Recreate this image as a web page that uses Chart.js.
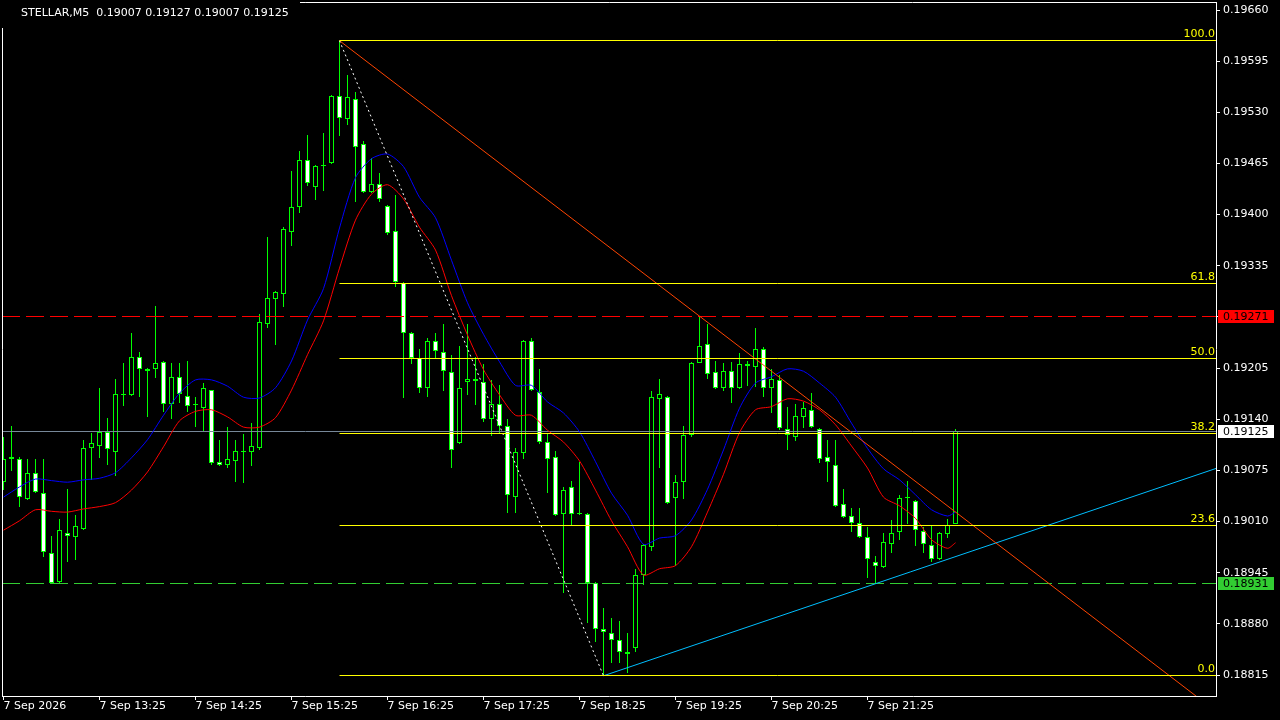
<!DOCTYPE html>
<html>
<head>
<meta charset="utf-8">
<script src="https://cdn.jsdelivr.net/npm/chart.js@4.4.0/dist/chart.umd.min.js"></script>
<style>
    html, body { margin: 0; padding: 0; background: #000; overflow: hidden; }
    #chart { display: block; }
</style>
</head>
<body>
<canvas id="chart" width="1280" height="720"></canvas>
<script>
// STELLAR M5, bars indexed from the first visible candle (-1) to the current one (118)
const timeTicks = [-1, 11, 23, 35, 47, 59, 71, 83, 95, 107];
const timeLabels = ['7 Sep 2026', '7 Sep 13:25', '7 Sep 14:25', '7 Sep 15:25', '7 Sep 16:25',
    '7 Sep 17:25', '7 Sep 18:25', '7 Sep 19:25', '7 Sep 20:25', '7 Sep 21:25'];
const priceTicks = [0.18815, 0.18880, 0.18945, 0.19010, 0.19075, 0.19140, 0.19205,
    0.19270, 0.19335, 0.19400, 0.19465, 0.19530, 0.19595, 0.19660];

const opens = [
    0.19060, 0.19092, 0.19090, 0.19039, 0.19072, 0.19046, 0.18970, 0.18933, 0.18995, 0.18990,
    0.19000, 0.19103, 0.19106, 0.19124, 0.19098, 0.19172, 0.19171, 0.19219, 0.19204, 0.19204,
    0.19213, 0.19159, 0.19194, 0.19170, 0.19159, 0.19154, 0.19177, 0.19086, 0.19082, 0.19087,
    0.19100, 0.19098, 0.19103, 0.19261, 0.19293, 0.19299, 0.19378, 0.19410, 0.19469, 0.19435,
    0.19463, 0.19466, 0.19551, 0.19522, 0.19547, 0.19490, 0.19429, 0.19439, 0.19411, 0.19379,
    0.19313, 0.19250, 0.19218, 0.19180, 0.19239, 0.19226, 0.19200, 0.19110, 0.19187, 0.19191,
    0.19187, 0.19140, 0.19159, 0.19131, 0.19041, 0.19097, 0.19239, 0.19175, 0.19111, 0.19092,
    0.19020, 0.19054, 0.19020, 0.19020, 0.18932, 0.18874, 0.18868, 0.18860, 0.18842, 0.18849,
    0.18942, 0.18978, 0.19166, 0.19168, 0.19040, 0.19060, 0.19120, 0.19212, 0.19236, 0.19200,
    0.19180, 0.19201, 0.19180, 0.19210, 0.19206, 0.19229, 0.19180, 0.19190, 0.19128, 0.19117,
    0.19143, 0.19152, 0.19128, 0.19092, 0.19082, 0.19032, 0.19017, 0.19008, 0.18990, 0.18959,
    0.18952, 0.18981, 0.18997, 0.19040, 0.19036, 0.18998, 0.18980, 0.18962, 0.18994, 0.19007
];
const highs = [
    0.19117, 0.19131, 0.19092, 0.19090, 0.19090, 0.19090, 0.18992, 0.19013, 0.19051, 0.19018,
    0.19114, 0.19123, 0.19180, 0.19142, 0.19191, 0.19212, 0.19250, 0.19226, 0.19205, 0.19284,
    0.19214, 0.19212, 0.19212, 0.19214, 0.19168, 0.19186, 0.19177, 0.19114, 0.19130, 0.19114,
    0.19121, 0.19135, 0.19274, 0.19372, 0.19303, 0.19384, 0.19455, 0.19481, 0.19501, 0.19463,
    0.19504, 0.19552, 0.19621, 0.19577, 0.19556, 0.19494, 0.19472, 0.19453, 0.19412, 0.19425,
    0.19314, 0.19251, 0.19229, 0.19243, 0.19250, 0.19261, 0.19222, 0.19233, 0.19261, 0.19219,
    0.19210, 0.19190, 0.19183, 0.19140, 0.19103, 0.19241, 0.19243, 0.19204, 0.19123, 0.19100,
    0.19054, 0.19062, 0.19086, 0.19021, 0.18933, 0.18900, 0.18887, 0.18884, 0.18868, 0.18950,
    0.18981, 0.19176, 0.19191, 0.19170, 0.19069, 0.19131, 0.19213, 0.19271, 0.19261, 0.19214,
    0.19212, 0.19213, 0.19224, 0.19214, 0.19256, 0.19232, 0.19204, 0.19196, 0.19156, 0.19159,
    0.19162, 0.19173, 0.19129, 0.19114, 0.19114, 0.19051, 0.19027, 0.19027, 0.19003, 0.18966,
    0.18995, 0.19012, 0.19044, 0.19062, 0.19037, 0.19003, 0.19004, 0.18997, 0.19013, 0.19127
];
const lows = [
    0.19050, 0.19074, 0.19029, 0.19038, 0.19046, 0.18965, 0.18931, 0.18932, 0.18959, 0.18961,
    0.18999, 0.19063, 0.19091, 0.19082, 0.19068, 0.19157, 0.19170, 0.19168, 0.19143, 0.19192,
    0.19149, 0.19140, 0.19161, 0.19149, 0.19130, 0.19124, 0.19082, 0.19081, 0.19078, 0.19060,
    0.19059, 0.19081, 0.19101, 0.19256, 0.19234, 0.19283, 0.19360, 0.19402, 0.19436, 0.19419,
    0.19430, 0.19464, 0.19500, 0.19514, 0.19416, 0.19428, 0.19428, 0.19416, 0.19374, 0.19308,
    0.19167, 0.19210, 0.19173, 0.19168, 0.19217, 0.19176, 0.19078, 0.19108, 0.19171, 0.19158,
    0.19137, 0.19119, 0.19123, 0.19021, 0.19021, 0.19090, 0.19176, 0.19108, 0.19046, 0.19017,
    0.18919, 0.19004, 0.19018, 0.18881, 0.18857, 0.18814, 0.18830, 0.18830, 0.18818, 0.18844,
    0.18929, 0.18973, 0.19078, 0.19032, 0.18954, 0.19039, 0.19117, 0.19211, 0.19191, 0.19178,
    0.19176, 0.19161, 0.19178, 0.19182, 0.19181, 0.19168, 0.19148, 0.19126, 0.19101, 0.19112,
    0.19129, 0.19129, 0.19084, 0.19060, 0.19029, 0.19014, 0.18997, 0.18989, 0.18938, 0.18931,
    0.18951, 0.18970, 0.18987, 0.19007, 0.18979, 0.18970, 0.18959, 0.18961, 0.18989, 0.19007
];
const closes = [
    0.19090, 0.19090, 0.19041, 0.19072, 0.19048, 0.18971, 0.18932, 0.18999, 0.18992, 0.19004,
    0.19103, 0.19110, 0.19124, 0.19102, 0.19172, 0.19171, 0.19219, 0.19204, 0.19201, 0.19212,
    0.19159, 0.19194, 0.19172, 0.19157, 0.19158, 0.19180, 0.19084, 0.19082, 0.19090, 0.19100,
    0.19098, 0.19106, 0.19264, 0.19294, 0.19302, 0.19382, 0.19410, 0.19469, 0.19440, 0.19462,
    0.19462, 0.19551, 0.19523, 0.19549, 0.19486, 0.19429, 0.19439, 0.19420, 0.19377, 0.19314,
    0.19250, 0.19218, 0.19180, 0.19239, 0.19227, 0.19201, 0.19101, 0.19180, 0.19191, 0.19189,
    0.19140, 0.19159, 0.19131, 0.19044, 0.19098, 0.19239, 0.19177, 0.19111, 0.19090, 0.19018,
    0.19050, 0.19020, 0.19020, 0.18932, 0.18874, 0.18870, 0.18860, 0.18844, 0.18844, 0.18942,
    0.18980, 0.19168, 0.19172, 0.19034, 0.19060, 0.19120, 0.19212, 0.19233, 0.19197, 0.19180,
    0.19201, 0.19180, 0.19210, 0.19208, 0.19229, 0.19180, 0.19191, 0.19129, 0.19120, 0.19144,
    0.19154, 0.19130, 0.19090, 0.19086, 0.19030, 0.19016, 0.19008, 0.18990, 0.18962, 0.18954,
    0.18984, 0.18995, 0.19040, 0.19040, 0.18999, 0.18981, 0.18962, 0.18995, 0.19006, 0.19125
];

// moving averages, read every second bar
const maBars = [-1, 1, 3, 5, 7, 9, 11, 13, 15, 17, 19, 21, 23, 25, 27, 29, 31, 33, 35, 37,
    39, 41, 43, 45, 47, 49, 51, 53, 55, 57, 59, 61, 63, 65, 67, 69, 71, 73, 75, 77,
    79, 81, 83, 85, 87, 89, 91, 93, 95, 97, 99, 101, 103, 105, 107, 109, 111, 113, 115, 117, 118];
const maBlue = [
    0.19041, 0.19054, 0.19064, 0.19062, 0.19060, 0.19063, 0.19065, 0.19072, 0.19091, 0.19114,
    0.19145, 0.19173, 0.19190, 0.19190, 0.19182, 0.19168, 0.19167, 0.19180, 0.19214, 0.19266,
    0.19306, 0.19383, 0.19447, 0.19471, 0.19477, 0.19461, 0.19422, 0.19396, 0.19342, 0.19288,
    0.19248, 0.19213, 0.19183, 0.19183, 0.19162, 0.19148, 0.19124, 0.19086, 0.19046, 0.19018,
    0.18981, 0.18989, 0.18992, 0.19012, 0.19051, 0.19101, 0.19154, 0.19186, 0.19194, 0.19204,
    0.19201, 0.19186, 0.19168, 0.19135, 0.19103, 0.19077, 0.19063, 0.19044, 0.19025, 0.19017, 0.19022
];
const maRed = [
    0.18999, 0.19011, 0.19025, 0.19023, 0.19022, 0.19026, 0.19029, 0.19034, 0.19050, 0.19073,
    0.19105, 0.19138, 0.19150, 0.19152, 0.19143, 0.19130, 0.19130, 0.19142, 0.19177, 0.19222,
    0.19265, 0.19332, 0.19393, 0.19426, 0.19438, 0.19420, 0.19384, 0.19355, 0.19297, 0.19247,
    0.19203, 0.19171, 0.19145, 0.19145, 0.19126, 0.19111, 0.19087, 0.19050, 0.19011, 0.18978,
    0.18942, 0.18950, 0.18954, 0.18978, 0.19022, 0.19070, 0.19123, 0.19152, 0.19156, 0.19166,
    0.19163, 0.19152, 0.19133, 0.19106, 0.19078, 0.19041, 0.19030, 0.19014, 0.18987, 0.18976, 0.18983
];

// objects on the chart
const fibHigh = { bar: 41, price: 0.19621 };
const fibLow = { bar: 74, price: 0.18814 };
const fibLevels = [0, 23.6, 38.2, 50, 61.8, 100];
const trendDown = [{ x: 41, y: 0.19621 }, { x: 86, y: 0.19271 }];
const trendUp = [{ x: 74, y: 0.18814 }, { x: 108, y: 0.18931 }];
const resistance = 0.19271;
const support = 0.18931;
const bid = 0.19125;
const header = 'STELLAR,M5  0.19007 0.19127 0.19007 0.19125';

const X_MIN = -1.1875, X_MAX = 150.5625;
const Y_MIN = 0.1878832, Y_MAX = 0.1967017;

const bars = opens.map((o, i) => i - 1);
const fibPrice = lvl => fibLow.price + (fibHigh.price - fibLow.price) * lvl / 100;

function ray(p1, p2, xEnd) {
    const slope = (p2.y - p1.y) / (p2.x - p1.x);
    return [p1, { x: xEnd, y: p1.y + slope * (xEnd - p1.x) }];
}

function lineSet(data, color, extra) {
    return Object.assign({
        type: 'line',
        data: data,
        borderColor: color,
        borderWidth: 1,
        pointRadius: 0,
        tension: 0,
        fill: false,
        order: 3
    }, extra || {});
}

// keep candles and horizontal levels on whole pixels so they stay sharp like the terminal
const crisp = {
    id: 'crisp',
    afterDatasetsUpdate(chart) {
        chart.data.datasets.forEach((ds, i) => {
            const meta = chart.getDatasetMeta(i);
            if (ds.type === 'bar') {
                meta.data.forEach(el => {
                    el.y = Math.round(el.y);
                    el.base = Math.round(el.base);
                    el.height = el.base - el.y;
                });
            } else if (ds.snap) {
                meta.data.forEach(el => { el.y = Math.floor(el.y) + 0.5; });
            }
        });
    }
};

const overlay = {
    id: 'overlay',
    beforeDraw(chart) {
        const ctx = chart.ctx;
        ctx.save();
        ctx.fillStyle = '#000';
        ctx.fillRect(0, 0, chart.width, chart.height);
        ctx.restore();
    },
    afterDraw(chart) {
        const ctx = chart.ctx;
        const area = chart.chartArea;
        const y = chart.scales.y;
        ctx.save();
        ctx.font = '11px "DejaVu Sans"';

        // fibo level captions
        ctx.fillStyle = '#FFFF00';
        ctx.textAlign = 'right';
        ctx.textBaseline = 'alphabetic';
        fibLevels.forEach(lvl => {
            const py = y.getPixelForValue(fibPrice(lvl));
            ctx.fillText(lvl.toFixed(1), area.right - 1, Math.floor(py) - 3);
        });

        // price marks on the axis
        const marks = [
            { price: resistance, bg: '#FF0000' },
            { price: bid, bg: '#FFFFFF' },
            { price: support, bg: '#32CD32' }
        ];
        ctx.textAlign = 'left';
        ctx.textBaseline = 'middle';
        marks.forEach(m => {
            const py = Math.floor(y.getPixelForValue(m.price));
            ctx.fillStyle = m.bg;
            ctx.fillRect(area.right + 2, py - 6, 56, 13);
            ctx.fillStyle = '#000';
            ctx.fillText(m.price.toFixed(5), area.right + 7, py + 1);
        });

        // frame
        ctx.strokeStyle = '#FFFFFF';
        ctx.lineWidth = 1;
        ctx.beginPath();
        ctx.moveTo(area.left + 0.5, area.bottom);
        ctx.lineTo(area.left + 0.5, area.top + 0.5);
        ctx.lineTo(area.right, area.top + 0.5);
        ctx.stroke();

        // symbol header
        ctx.fillStyle = '#000';
        ctx.fillRect(0, 0, 300, 28);
        ctx.fillStyle = '#FFFFFF';
        ctx.fillText(header, 21, 13);
        ctx.restore();
    }
};

Chart.defaults.font.family = '"DejaVu Sans"';
Chart.defaults.font.size = 11;

const datasets = [
    {
        type: 'bar',
        data: bars.map((k, i) => ({ x: k, y: [opens[i], closes[i]] })),
        backgroundColor: bars.map((k, i) => closes[i] > opens[i] ? '#000000' : '#FFFFFF'),
        borderColor: '#00FF00',
        borderWidth: 1,
        borderSkipped: false,
        barThickness: 5,
        minBarLength: 1,
        grouped: false,
        inflateAmount: 0,
        order: 9
    },
    {
        type: 'bar',
        data: bars.map((k, i) => ({ x: k, y: [lows[i], highs[i]] })),
        backgroundColor: '#00FF00',
        borderWidth: 0,
        barThickness: 1,
        grouped: false,
        inflateAmount: 0,
        order: 10
    },
    lineSet([{ x: X_MIN, y: bid }, { x: X_MAX, y: bid }], '#778899', { order: 8, snap: true }),
    lineSet([{ x: X_MIN, y: resistance }, { x: X_MAX, y: resistance }], '#FF0000', { borderDash: [18, 6], order: 7, snap: true }),
    lineSet([{ x: X_MIN, y: support }, { x: X_MAX, y: support }], '#32CD32', { borderDash: [18, 6], order: 7, snap: true }),
    lineSet(maBars.map((k, i) => ({ x: k, y: maBlue[i] })), '#0000FF', { tension: 0.25, order: 5 }),
    lineSet(maBars.map((k, i) => ({ x: k, y: maRed[i] })), '#FF0000', { tension: 0.25, order: 5 }),
    lineSet([{ x: fibHigh.bar, y: fibHigh.price }, { x: fibLow.bar, y: fibLow.price }], '#FFFFFF', { borderDash: [2, 3], order: 2 }),
    lineSet(ray(trendDown[0], trendDown[1], 200), '#FF4500', { order: 2 }),
    lineSet(ray(trendUp[0], trendUp[1], 200), '#00BFFF', { order: 2 })
];
fibLevels.forEach(lvl => {
    const p = fibPrice(lvl);
    datasets.push(lineSet([{ x: fibHigh.bar, y: p }, { x: X_MAX, y: p }], '#FFFF00', { order: 1, snap: true }));
});

new Chart(document.getElementById('chart').getContext('2d'), {
    type: 'line',
    data: { datasets: datasets },
    options: {
        responsive: false,
        animation: false,
        devicePixelRatio: 1,
        events: [],
        layout: { padding: { left: 2, top: 2, right: 0, bottom: 0 } },
        plugins: {
            legend: { display: false },
            tooltip: { enabled: false }
        },
        scales: {
            x: {
                type: 'linear',
                min: X_MIN,
                max: X_MAX,
                offset: false,
                afterFit: s => { s.height = 24; s.paddingLeft = 0; s.paddingRight = 0; },
                afterBuildTicks: s => { s.ticks = timeTicks.map(v => ({ value: v })); },
                ticks: {
                    color: '#FFFFFF',
                    align: 'start',
                    padding: 0,
                    maxRotation: 0,
                    autoSkip: false,
                    callback: v => timeLabels[timeTicks.indexOf(v)]
                },
                grid: { drawOnChartArea: false, color: '#FFFFFF', tickLength: 4, offset: false },
                border: { color: '#FFFFFF' }
            },
            y: {
                type: 'linear',
                position: 'right',
                min: Y_MIN,
                max: Y_MAX,
                afterFit: s => { s.width = 64; s.paddingTop = 0; s.paddingBottom = 0; },
                afterBuildTicks: s => { s.ticks = priceTicks.map(v => ({ value: v })); },
                ticks: {
                    color: '#FFFFFF',
                    padding: 3,
                    autoSkip: false,
                    callback: v => v.toFixed(5)
                },
                grid: { drawOnChartArea: false, color: '#FFFFFF', tickLength: 4 },
                border: { color: '#FFFFFF' }
            }
        }
    },
    plugins: [crisp, overlay]
});
</script>
</body>
</html>
